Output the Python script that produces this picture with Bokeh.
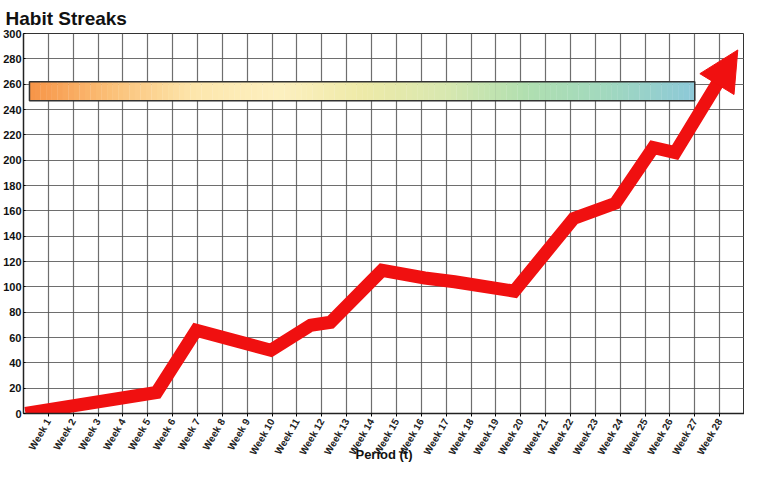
import numpy as np
from bokeh.plotting import figure
from bokeh.models import Range1d, FixedTicker, Arrow, NormalHead
from bokeh.embed import file_html
from bokeh.resources import INLINE
from math import pi

# ---- data ----
title_text = "Habit Streaks"
x_title = "Period (t)"
period = [0.08, 5.35, 6.95, 9.95, 11.55, 12.35, 14.42, 16.14, 17.34, 19.74, 22.13, 23.81, 25.33, 26.21, 28.2]
streak = [0, 16.6, 65.7, 49.9, 69.7, 72, 113, 107, 104, 96.6, 154, 166, 210, 206, 270]
arrow_tip = (28.73, 287)
arrow_from = (26.21, 206)
goal_start, goal_end = 0.24, 27.0
goal_low, goal_high = 247, 262
y_ticks = list(range(0, 301, 20))
x_ticks = list(range(1, 29))
x_labels = ["Week %d" % i for i in x_ticks]
grad_colors = ["#f79447", "#fbc179", "#fde7ad", "#fdf0c0", "#eeeaa8", "#d8e8b0", "#b0dfb0", "#a0d8c0", "#8cc8d8"]

p = figure(width=744, height=472, output_backend="svg", toolbar_location=None,
           x_range=Range1d(0, 29), y_range=Range1d(0, 300),
           min_border_left=18, min_border_right=0, min_border_top=26, min_border_bottom=59)
p.title.text = title_text
p.title.text_font = "Liberation Sans"
p.title.text_font_size = "19px"
p.title.text_font_style = "bold"
p.title.offset = -18
p.title.text_color = "#111111"

p.outline_line_color = "#333333"
p.background_fill_color = "white"
p.xgrid.ticker = FixedTicker(ticks=list(range(0, 30)))
p.ygrid.ticker = FixedTicker(ticks=y_ticks)
for g in (p.xgrid, p.ygrid):
    g.grid_line_color = "#555555"
    g.grid_line_width = 1.2
    g.grid_line_alpha = 0.85

p.yaxis.ticker = FixedTicker(ticks=y_ticks)
p.yaxis.major_label_text_font = "Liberation Sans"
p.yaxis.major_label_text_font_style = "bold"
p.yaxis.major_label_text_font_size = "11px"
p.yaxis.major_label_text_color = "#111111"
p.yaxis.major_label_standoff = 2
p.yaxis.major_tick_out = 0
p.yaxis.minor_tick_line_color = None
p.yaxis.axis_line_color = "#222222"
p.yaxis.axis_line_width = 1.5

p.xaxis.ticker = FixedTicker(ticks=x_ticks)
p.xaxis.major_label_overrides = {t: l for t, l in zip(x_ticks, x_labels)}
p.xaxis.major_label_orientation = pi / 3
p.xaxis.major_label_text_font = "Liberation Sans"
p.xaxis.major_label_text_font_style = "bold"
p.xaxis.major_label_text_font_size = "10px"
p.xaxis.major_label_text_color = "#222222"
p.xaxis.major_label_standoff = 3
p.xaxis.major_tick_out = 3
p.xaxis.major_tick_in = 0
p.xaxis.minor_tick_line_color = None
p.xaxis.axis_line_color = "#222222"
p.xaxis.axis_line_width = 1.5
p.xaxis.axis_label = x_title
p.xaxis.axis_label_standoff = -16
p.xaxis.axis_label_text_font = "Liberation Sans"
p.xaxis.axis_label_text_font_style = "bold"
p.xaxis.axis_label_text_font_size = "13px"
p.xaxis.axis_label_text_color = "#111111"

# gradient goal band
n = 120
edges = np.linspace(goal_start, goal_end, n + 1)
pos = np.linspace(0, 1, len(grad_colors))
def hex2rgb(h):
    return np.array([int(h[i:i + 2], 16) for i in (1, 3, 5)])
rgbs = np.array([hex2rgb(c) for c in grad_colors])
cols = []
for i in range(n):
    t = (i + 0.5) / n
    r = [np.interp(t, pos, rgbs[:, k]) for k in range(3)]
    cols.append("#%02x%02x%02x" % tuple(int(round(v)) for v in r))
p.quad(left=edges[:-1], right=edges[1:] + 0.01, bottom=goal_low, top=goal_high,
       fill_color=cols, line_color=None)
p.quad(left=[goal_start], right=[goal_end], bottom=[goal_low], top=[goal_high],
       fill_color=None, line_color="#333333", line_width=1.5)

# streak line
p.line(period, streak, line_color="#f01010", line_width=13, line_join="miter")
p.add_layout(Arrow(end=NormalHead(size=40, fill_color="#f01010", line_color="#f01010"),
                   x_start=arrow_from[0], y_start=arrow_from[1],
                   x_end=arrow_tip[0], y_end=arrow_tip[1],
                   line_alpha=0))

open("out.html", "w").write(file_html(p, INLINE))
